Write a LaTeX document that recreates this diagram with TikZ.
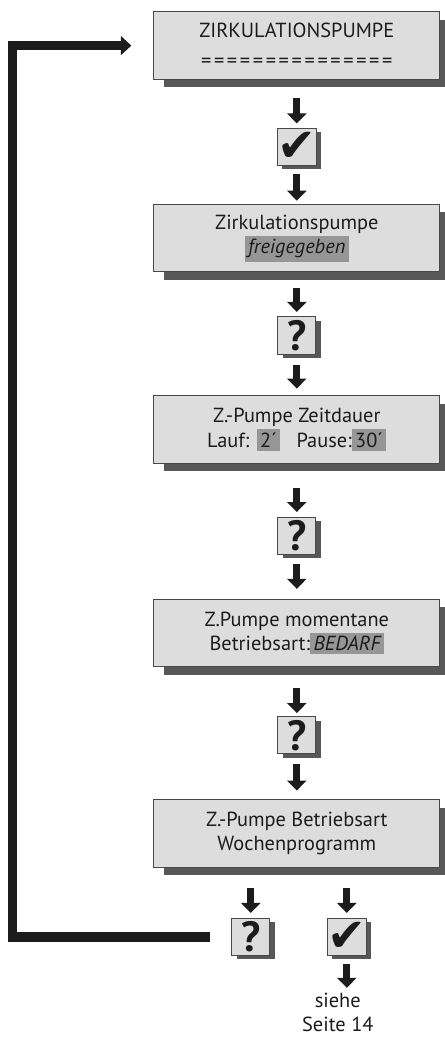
\documentclass[tikz,border=0pt]{standalone}
\usepackage{amssymb}
\usepackage{fontspec}
\setmainfont{PT Sans}
\newfontfamily\symbolfont{DejaVu Sans}
\usetikzlibrary{positioning,shadows,arrows.meta}

\definecolor{panelgray}{RGB}{221,221,221}
\definecolor{shadowgray}{RGB}{88,88,88}
\definecolor{markgray}{RGB}{150,150,150}
\definecolor{ink}{RGB}{28,28,28}

\newcommand{\hilite}[1]{{\setlength{\fboxsep}{2.5pt}\colorbox{markgray}{#1}}}
\newcommand{\tick}{{\symbolfont\fontsize{33}{33}\selectfont ✔}}
\newcommand{\query}{{\fontsize{30}{30}\selectfont\bfseries ?}}
\newcommand{\eqrow}{\foreach \i in {1,...,15}{\makebox[9.2pt]{=}}}

\tikzset{
  panel/.style={draw=ink!80, line width=0.6pt, fill=panelgray, text=ink,
    minimum width=7.15cm, minimum height=1.69cm, align=center,
    font=\fontsize{14.5}{17.5}\selectfont,
    drop shadow={shadow xshift=0.25cm, shadow yshift=-0.2cm, fill=shadowgray, opacity=1}},
  keybox/.style={draw=ink!80, line width=0.6pt, fill=panelgray, text=ink,
    minimum width=0.95cm, minimum height=0.93cm, inner sep=0pt,
    drop shadow={shadow xshift=0.12cm, shadow yshift=-0.1cm, fill=shadowgray, opacity=1}},
  down/.style={draw=ink, line width=0.175cm, -{Triangle[width=0.475cm,length=0.25cm]}},
  loopback/.style={draw=ink, line width=0.24cm, line join=miter,
    -{Triangle[width=0.46cm,length=0.26cm]}},
}

\begin{document}
\begin{tikzpicture}
  \useasboundingbox (0,0) rectangle (11.1,-26.025);

  \node[panel] (pump) at (7.42,-1.14) {ZIRKULATIONSPUMPE\\[4pt]\eqrow}; %
  \node[keybox, below=1.2 of pump] (ok1) {\tick}; %
  \node[panel, below=0.95 of ok1] (enable) {Zirkulationspumpe\\\hilite{\itshape freigegeben}}; %
  \node[keybox, below=1.1 of enable] (q1) {\query}; %
  \node[panel, below=1.025 of q1] (runtime) {Z.-Pumpe Zeitdauer\\Lauf: \hilite{2´}\hspace{0.8em}Pause:\hilite{30´}}; %
  \node[keybox, below=1.325 of runtime] (q2) {\query}; %
  \node[panel, below=1.1 of q2] (mode) {Z.Pumpe momentane\\Betriebsart:\hilite{\itshape BEDARF}}; %
  \node[keybox, below=1.225 of mode] (q3) {\query}; %
  \node[panel, below=1.125 of q3] (week) {Z.-Pumpe Betriebsart\\Wochenprogramm}; %
  \node[keybox, below=1.25 of week, xshift=-1.15cm] (q4) {\query}; %
  \node[keybox, below=1.25 of week, xshift=1.25cm] (ok2) {\tick}; %
  \node[below=0.8 of ok2, xshift=-0.225cm, align=center, text=ink,
        font=\fontsize{14.5}{17.5}\selectfont] (page) {siehe\\Seite 14}; %

  \draw[down, shorten <=0.45cm, shorten >=0.11cm] (pump) -- (ok1);
  \draw[down, shorten <=0.21cm, shorten >=0.08cm] (ok1) -- (enable);
  \draw[down, shorten <=0.4cm, shorten >=0.11cm] (enable) -- (q1);
  \draw[down, shorten <=0.26cm, shorten >=0.17cm] (q1) -- (runtime);
  \draw[down, shorten <=0.6cm, shorten >=0.12cm] (runtime) -- (q2);
  \draw[down, shorten <=0.22cm, shorten >=0.25cm] (q2) -- (mode);
  \draw[down, shorten <=0.52cm, shorten >=0.08cm] (mode) -- (q3);
  \draw[down, shorten <=0.25cm, shorten >=0.22cm] (q3) -- (week);
  \draw[down, shorten <=0.5cm, shorten >=0.12cm] (week.south -| q4) -- (q4);
  \draw[down, shorten <=0.5cm, shorten >=0.12cm] (week.south -| ok2) -- (ok2);
  \draw[down, shorten <=0.21cm] (ok2) -- (ok2 |- page.north);

  % back to the start
  \coordinate (corner) at (0.31,-23.25);
  \draw[loopback, shorten <=0.53cm, shorten >=0.55cm] (q4.west) -- (q4.west -| corner) |- (pump.west);
\end{tikzpicture}
\end{document}
